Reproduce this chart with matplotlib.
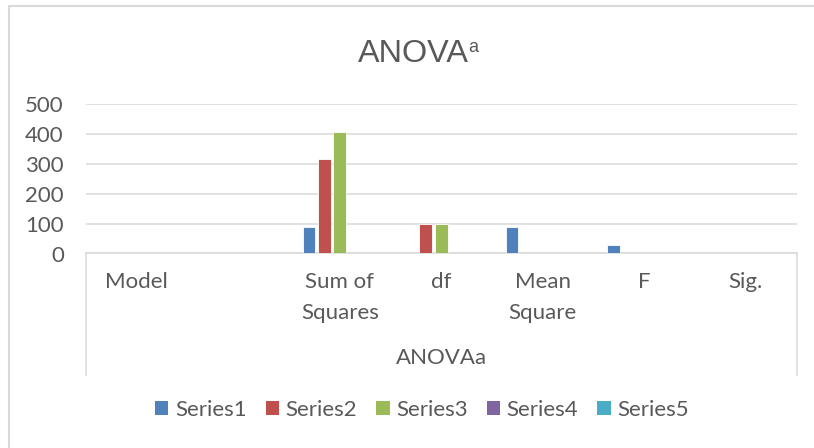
import numpy as np
import matplotlib
matplotlib.use("Agg")
import matplotlib.pyplot as plt
from matplotlib.patches import Patch
from matplotlib.lines import Line2D

# data
categories = ["Model", "", "Sum of\nSquares", "df", "Mean\nSquare", "F", "Sig."]
series_names = ["Series1", "Series2", "Series3", "Series4", "Series5"]
series1 = [0, 88.3, 1, 88.3, 27.2, 0]
series2 = [0, 317.6, 98, 3.2, 0, 0]
series3 = [0, 405.9, 99, 0, 0, 0]
series4 = [0, 0, 0, 0, 0, 0]
series5 = [0, 0, 0, 0, 0, 0]
# first value is the (empty) blank column
series_values = [[0] + s for s in (series1, series2, series3, series4, series5)]
colors = ["#4F81BD", "#C0504D", "#9BBB59", "#8064A2", "#4BACC6"]
group_label = "ANOVAa"
yticks = [0, 100, 200, 300, 400, 500]

text_color = "#595959"
grid_color = "#D9D9D9"
plt.rcParams['font.family'] = ['Lato', 'DejaVu Sans']

W, H = 814, 448
fig = plt.figure(figsize=(W / 100, H / 100), dpi=100)

# plot area in pixel terms
left, right, y0, y500 = 86, 796.5, 253.5, 104
ax = fig.add_axes([left / W, 1 - y0 / H, (right - left) / W, (y0 - y500) / H])

x = np.arange(len(categories))
slot = 0.152
bar_w = 0.125
for i, (name, vals) in enumerate(zip(series_names, series_values)):
    offs = (i - 2) * slot
    ax.bar(x + offs, vals, width=bar_w, color=colors[i], edgecolor="white",
           linewidth=0.6, label=name, zorder=3)

ax.set_xlim(-0.5, len(categories) - 0.5)
ax.set_ylim(0, 500)
ax.set_yticks(yticks)
ax.yaxis.grid(True, color=grid_color, linewidth=1.1, zorder=0)
ax.set_axisbelow(True)
for side in ["top", "right", "left"]:
    ax.spines[side].set_visible(False)
ax.spines["bottom"].set_color(grid_color)
ax.spines["bottom"].set_linewidth(1.1)

ax.tick_params(axis="y", length=0, pad=16, labelsize=16, labelcolor=text_color)
ax.set_xticks(x)
ax.set_xticklabels(categories, linespacing=1.7)
ax.tick_params(axis="x", length=0, pad=13, labelsize=16, labelcolor=text_color)

# multi-level category box and group label
box_bottom = (y0 - 375) / (y0 - y500)
for xx in (0, 1):
    ax.plot([xx, xx], [0, box_bottom], transform=ax.transAxes, color=grid_color,
            linewidth=1.1, clip_on=False)
ax.text(0.5, (y0 - 358) / (y0 - y500), group_label, transform=ax.transAxes,
        ha="center", va="center", fontsize=16, color=text_color)

# title with superscript
fig.text(358 / W, 1 - 61.7 / H, "ANOVA", ha="left", va="baseline",
         fontsize=23.3, color=text_color, family="Liberation Sans")
fig.text(468 / W, 1 - 51.7 / H, "a", ha="left", va="baseline",
         fontsize=13, color=text_color, family="Liberation Sans")

# outer chart border
fig.add_artist(Line2D([9 / W, 9 / W, 1], [0, 1 - 6 / H, 1 - 6 / H],
                      transform=fig.transFigure, color=grid_color, linewidth=1.5))

handles = [Patch(facecolor=c, edgecolor="none") for c in colors]
fig.legend(handles, series_names, loc="center", bbox_to_anchor=(422 / W, 1 - 410 / H),
           ncol=5, frameon=False, fontsize=16, labelcolor=text_color,
           handlelength=0.6, handleheight=0.6, handletextpad=0.3, columnspacing=0.85)

fig.savefig("out.png", dpi=100)
